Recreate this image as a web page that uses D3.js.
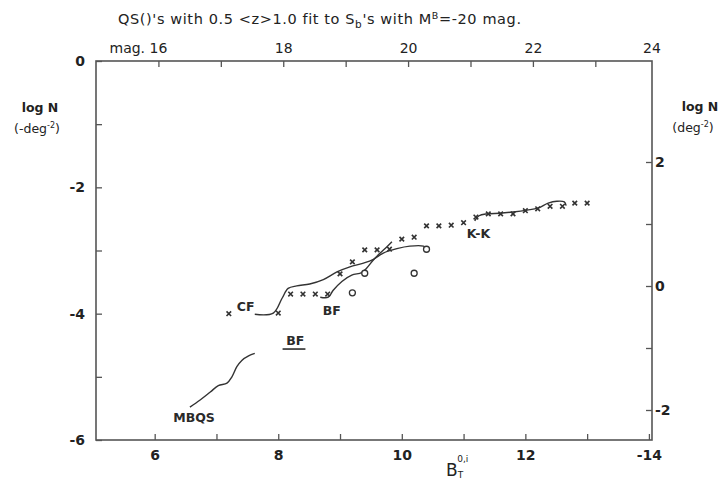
<!DOCTYPE html>
<html>
<head>
<meta charset="utf-8">
<script src="https://cdn.jsdelivr.net/npm/d3@7"></script>
<style>
  html, body { margin: 0; padding: 0; background: #fff; }
  svg { display: block; font-family: "DejaVu Sans", Verdana, sans-serif; }
</style>
</head>
<body>
<svg id="chart" width="727" height="491"></svg>
<script>
// ---------- data ----------
const bottomTicks = [6, 7, 8, 9, 10, 11, 12, 13, 14];
const bottomLabels = {6: "6", 8: "8", 10: "10", 12: "12", 14: "-14"};
const topTicks = [16, 17, 18, 19, 20, 21, 22, 23];
const topLabels = {16: "mag. 16", 18: "18", 20: "20", 22: "22"};
const topLastLabel = "24";
const leftTicks = [-6, -5, -4, -3, -2, -1, 0];
const leftLabels = {"-6": "-6", "-4": "-4", "-2": "-2", "0": "0"};
const rightTicks = [-2, -1, 0, 1, 2];
const rightLabels = {"-2": "-2", "0": "0", "2": "2"};

const crossX = [7.2, 8.0, 8.2, 8.4, 8.6, 8.8, 9.0, 9.2, 9.4, 9.6, 9.8, 10.0, 10.2, 10.4, 10.6, 10.8, 11.0, 11.2, 11.4, 11.6, 11.8, 12.0, 12.2, 12.4, 12.6, 12.8, 13.0];
const crossY = [-4.00, -3.99, -3.69, -3.69, -3.69, -3.69, -3.37, -3.18, -2.99, -2.99, -2.98, -2.82, -2.79, -2.61, -2.61, -2.60, -2.56, -2.47, -2.42, -2.42, -2.42, -2.37, -2.34, -2.30, -2.30, -2.25, -2.25];

const circleX = [9.2, 9.4, 10.2, 10.4];
const circleY = [-3.67, -3.36, -3.36, -2.98];

const cfX = [7.62, 7.92, 8.06, 8.16, 8.30, 8.51, 8.73, 8.95, 9.16, 9.38, 9.54, 9.70, 9.92, 10.13, 10.35, 10.41];
const cfY = [-4.01, -3.99, -3.76, -3.60, -3.56, -3.53, -3.46, -3.34, -3.26, -3.20, -3.14, -3.04, -2.97, -2.93, -2.93, -2.97];

const bfX = [8.68, 8.81, 8.89, 9.03, 9.19, 9.35, 9.43, 9.54, 9.65, 9.76, 9.84];
const bfY = [-3.74, -3.74, -3.63, -3.49, -3.39, -3.35, -3.28, -3.15, -3.04, -2.94, -2.86];

const kkX = [11.18, 11.25, 11.38, 11.59, 11.80, 12.03, 12.20, 12.37, 12.51, 12.63, 12.66];
const kkY = [-2.53, -2.45, -2.42, -2.41, -2.39, -2.36, -2.33, -2.25, -2.22, -2.23, -2.29];

const mbqsX = [6.57, 6.73, 6.90, 7.03, 7.17, 7.25, 7.33, 7.41, 7.52, 7.62];
const mbqsY = [-5.48, -5.37, -5.24, -5.14, -5.10, -5.00, -4.84, -4.74, -4.67, -4.63];

// label anchor points (data coords)
const curveLabels = [
  {text: "CF", x: 7.33, y: -3.95},
  {text: "BF", x: 8.72, y: -4.02},
  {text: "K-K", x: 11.05, y: -2.80},
  {text: "MBQS", x: 6.30, y: -5.72}
];
const underlinedLabel = {text: "BF", x: 8.13, y: -4.50, x0: 8.07, x1: 8.44, yLine: -4.56};

// ---------- layout ----------
const svg = d3.select("#chart");
const L = 96, R = 652, T = 61, B = 440;
const axisColor = "#555";
const inkColor = "#333";

const x = d3.scaleLinear().domain([5.05, 14.05]).range([L, R]);
const xTop = d3.scaleLinear().domain([15, 23.9]).range([L, R - 0.5]);
const y = d3.scaleLinear().domain([-6, 0]).range([B, T]);
const yRight = d3.scaleLinear().domain([-2, 2]).range([410, 162]);

// title
const title = svg.append("text")
  .attr("x", 118).attr("y", 24)
  .attr("font-size", 14.5).attr("letter-spacing", 0.6).attr("fill", "#222");
title.append("tspan").text("QS()'s with 0.5 <z>1.0 fit to S");
title.append("tspan").attr("font-size", 10.5).attr("dy", 4).text("b");
title.append("tspan").attr("dy", -4).text("'s with M");
title.append("tspan").attr("font-size", 9.5).attr("dy", -5).text("B");
title.append("tspan").attr("dy", 5).text("=-20 mag.");

// axes
function styleAxis(g, bold) {
  g.select(".domain").remove();
  g.selectAll(".tick line").attr("stroke", axisColor).attr("stroke-width", 1.3);
  g.selectAll(".tick text").attr("fill", "#222").attr("font-size", 14)
    .attr("font-family", "DejaVu Sans, Verdana, sans-serif")
    .attr("font-weight", bold ? "bold" : "normal");
}

svg.append("g").attr("transform", `translate(0,${B})`)
  .call(d3.axisBottom(x).tickValues(bottomTicks).tickSize(-6).tickPadding(10)
    .tickFormat(d => bottomLabels[d] || ""))
  .call(g => styleAxis(g, true));

svg.append("g").attr("transform", `translate(0,${T})`)
  .call(d3.axisTop(xTop).tickValues(topTicks).tickSize(-6).tickPadding(8)
    .tickFormat(d => topLabels[d] || ""))
  .call(g => styleAxis(g, false))
  .call(g => g.selectAll(".tick text").filter(d => d === 16)
      .attr("text-anchor", "end").attr("dx", "0.6em"));

svg.append("text").attr("x", R).attr("y", T - 8)
  .attr("text-anchor", "middle").attr("font-size", 14).attr("fill", "#222")
  .text(topLastLabel);

svg.append("g").attr("transform", `translate(${L},0)`)
  .call(d3.axisLeft(y).tickValues(leftTicks).tickSize(-6).tickPadding(11)
    .tickFormat(d => leftLabels[d] || ""))
  .call(g => styleAxis(g, true));

svg.append("g").attr("transform", `translate(${R},0)`)
  .call(d3.axisRight(yRight).tickValues(rightTicks).tickSize(-6).tickPadding(3)
    .tickFormat(d => rightLabels[d] || ""))
  .call(g => styleAxis(g, true));

// frame
svg.append("rect").attr("x", L).attr("y", T).attr("width", R - L).attr("height", B - T)
  .attr("fill", "none").attr("stroke", axisColor).attr("stroke-width", 1.6);

// axis titles
function axisTitle(cx, cy, main, sup, prefix) {
  svg.append("text").attr("x", cx).attr("y", cy)
    .attr("text-anchor", "middle").attr("font-size", 12.5).attr("font-weight", "bold")
    .attr("fill", "#222").text("log N");
  const t2 = svg.append("text").attr("x", cx - (prefix ? 3 : 7)).attr("y", cy + 21)
    .attr("text-anchor", "middle").attr("font-size", 12.5).attr("fill", "#222");
  t2.append("tspan").text(main);
  t2.append("tspan").attr("font-size", 8).attr("dy", -5).text(sup);
  t2.append("tspan").attr("dy", 5).text(")");
}
axisTitle(40, 112, "(-deg", "-2", true);
axisTitle(700, 111, "(deg", "-2", false);

const xl = svg.append("text").attr("x", 446).attr("y", 476)
  .attr("font-size", 17).attr("fill", "#222");
xl.append("tspan").text("B");
xl.append("tspan").attr("font-size", 9).attr("dy", 2).text("T");
xl.append("tspan").attr("font-size", 9).attr("dx", -6).attr("dy", -16).text("0,i");

// curves
const line = d3.line().x(d => x(d[0])).y(d => y(d[1])).curve(d3.curveCatmullRom.alpha(0.5));
const curves = [
  d3.zip(cfX, cfY), d3.zip(bfX, bfY), d3.zip(kkX, kkY), d3.zip(mbqsX, mbqsY)
];
svg.append("g").selectAll("path").data(curves).join("path")
  .attr("d", line).attr("fill", "none").attr("stroke", inkColor).attr("stroke-width", 1.4);

// crosses
const s = 2.3;
svg.append("g").selectAll("path").data(d3.zip(crossX, crossY)).join("path")
  .attr("d", d => {
    const px = x(d[0]), py = y(d[1]);
    return `M${px - s},${py - s}L${px + s},${py + s}M${px - s},${py + s}L${px + s},${py - s}`;
  })
  .attr("stroke", inkColor).attr("stroke-width", 1.6).attr("fill", "none");

// open circles
svg.append("g").selectAll("circle").data(d3.zip(circleX, circleY)).join("circle")
  .attr("cx", d => x(d[0])).attr("cy", d => y(d[1])).attr("r", 3)
  .attr("fill", "#fff").attr("stroke", inkColor).attr("stroke-width", 1.3);

// curve labels
svg.append("g").selectAll("text").data(curveLabels).join("text")
  .attr("x", d => x(d.x)).attr("y", d => y(d.y))
  .attr("font-size", 12.5).attr("font-weight", "bold").attr("fill", "#2a2a2a").text(d => d.text);

svg.append("text").attr("x", x(underlinedLabel.x)).attr("y", y(underlinedLabel.y))
  .attr("font-size", 12.5).attr("font-weight", "bold").attr("fill", "#2a2a2a")
  .text(underlinedLabel.text);
svg.append("line")
  .attr("x1", x(underlinedLabel.x0)).attr("x2", x(underlinedLabel.x1))
  .attr("y1", y(underlinedLabel.yLine)).attr("y2", y(underlinedLabel.yLine))
  .attr("stroke", "#444").attr("stroke-width", 1.8);
</script>
</body>
</html>
